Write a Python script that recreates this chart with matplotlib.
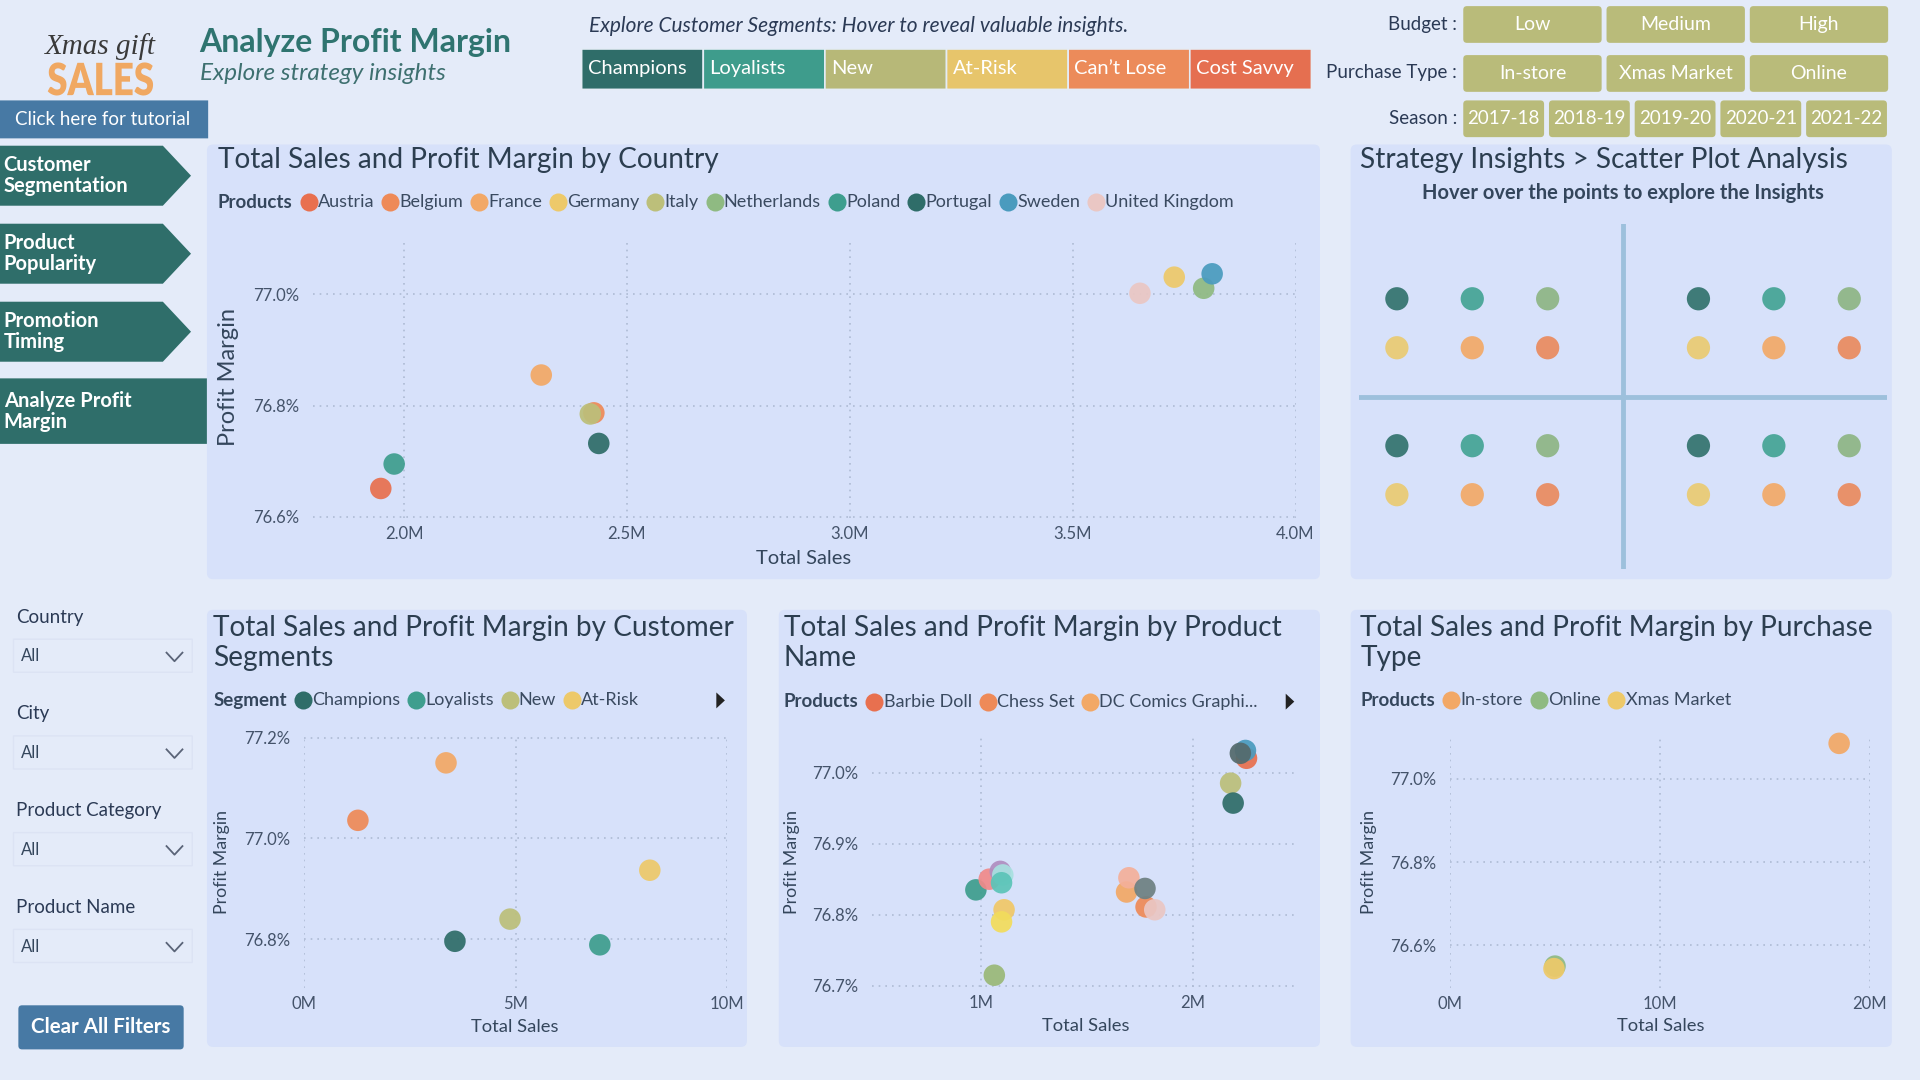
import numpy as np
import matplotlib.pyplot as plt
from matplotlib.patches import FancyBboxPatch, Polygon, PathPatch
from matplotlib.lines import Line2D
from matplotlib.transforms import Affine2D
from matplotlib.textpath import TextPath
from matplotlib.font_manager import FontProperties

plt.rcParams['font.family'] = ['Lato', 'DejaVu Sans']

# ---------------- data ----------------
countries = ['Austria', 'Belgium', 'France', 'Germany', 'Italy', 'Netherlands',
             'Poland', 'Portugal', 'Sweden', 'United Kingdom']
country_sales = [1.948, 2.426, 2.308, 3.728, 2.418, 3.794, 1.978, 2.437, 3.813, 3.651]  # M
country_margin = [76.651, 76.787, 76.855, 77.031, 76.785, 77.011, 76.695, 76.732, 77.037, 77.002]
country_colors = ['#E8704F', '#EE8A58', '#F2A866', '#EDC96A', '#BCBF7A', '#8FBA82',
                  '#3E9E8E', '#2F6D69', '#4A9BBE', '#EAC7C4']

segments = ['Champions', 'Loyalists', 'New', 'At-Risk', "Can't Lose", 'Cost Savvy']
seg_sales = [3.57, 6.99, 4.87, 8.17, 3.36, 1.28]
seg_margin = [76.796, 76.789, 76.840, 76.937, 77.150, 77.036]
seg_colors = ['#2F6D69', '#3E9E8E', '#BCBF7A', '#EDC96A', '#F2A866', '#EE8A58']

products = ['Barbie Doll', 'Chess Set', 'DC Comics Graphic Novel', 'Gingerbread House Kit',
            'Harry Potter Book Set', 'Jigsaw Puzzle', 'Lego Star Wars', 'Monopoly',
            'Nerf Blaster', 'Nintendo Switch', 'Play-Doh Set', 'Rubik\'s Cube',
            'Scrabble', 'Snow Globe', 'Teddy Bear', 'Toy Train Set', 'Uno Cards', 'Xbox Controller']
prod_sales = [2.254, 1.780, 1.688, 1.110, 2.179, 1.064, 0.977, 2.191, 2.249,
              1.821, 1.040, 1.699, 1.092, 1.104, 1.098, 1.098, 1.775, 2.225]
prod_margin = [77.020, 76.811, 76.832, 76.807, 76.985, 76.715, 76.835, 76.957, 77.031,
               76.807, 76.850, 76.852, 76.861, 76.856, 76.845, 76.790, 76.837, 77.027]
prod_colors = ['#E8704F', '#EE8A58', '#F2A866', '#F0C868', '#BCBF7A', '#9AB878',
               '#3E9E8E', '#2F6D69', '#4A9BBE', '#EAC7C4', '#F08A8A', '#F4B09A',
               '#B08EC0', '#A8E0E0', '#5CC4B8', '#F2DC5C', '#6E8082', '#546A6C']

purchase_types = ['In-store', 'Online', 'Xmas Market']
purchase_sales = [18.54, 5.01, 4.96]
purchase_margin = [77.085, 76.550, 76.544]
purchase_colors = ['#F2A866', '#8FBA82', '#EDC96A']

# strategy quadrant grid (column / row index of each insight point)
strategy_cols = [0, 1, 2, 4, 5, 6]
strategy_rows = [0, 1, 3, 4]
strategy_top_colors = ['#3F7B78', '#4FA89C', '#93B88D']
strategy_bottom_colors = ['#E8CC7C', '#F0AD72', '#E8916A']

segment_buttons = ['Champions', 'Loyalists', 'New', 'At-Risk', 'Can\u2019t Lose', 'Cost Savvy']
segment_btn_colors = ['#2F6D69', '#3E9C8C', '#B7B878', '#E7C56B', '#EC8B5A', '#E56F50']
budget_opts = ['Low', 'Medium', 'High']
purchase_opts = ['In-store', 'Xmas Market', 'Online']
season_opts = ['2017-18', '2018-19', '2019-20', '2020-21', '2021-22']
nav_items = ['Customer\nSegmentation', 'Product\nPopularity', 'Promotion\nTiming']
filters = ['Country', 'City', 'Product Category', 'Product Name']

# ---------------- figure ----------------
W, H = 1568, 882
BG = '#E4EBF9'
PANEL = '#D7E1FA'
DARK = '#2C3E50'
TICK = '#44536A'
LAB = '#34465C'

fig = plt.figure(figsize=(19.2, 10.8), dpi=100, facecolor=BG)
T = Affine2D().scale(1 / W, -1 / H).translate(0, 1) + fig.transFigure
R = fig.canvas.get_renderer()


def box(x0, y0, x1, y1, color, r=0, ec='none', lw=0, z=0):
    p = FancyBboxPatch((x0, y0), x1 - x0, y1 - y0, boxstyle=f'round,pad=0,rounding_size={r}',
                       transform=T, fc=color, ec=ec, lw=lw, zorder=z)
    fig.add_artist(p)


def txt(x, y, s, **kw):
    kw.setdefault('va', 'center')
    kw.setdefault('color', DARK)
    return fig.text(x, y, s, transform=T, **kw)


def axes_at(x0, y0, x1, y1):
    ax = fig.add_axes([x0 / W, 1 - y1 / H, (x1 - x0) / W, (y1 - y0) / H])
    ax.set_facecolor('none')
    for s in ax.spines.values():
        s.set_visible(False)
    return ax


def legend_row(x, y, title, labels, colors, size=13):
    t = txt(x, y, title, fontsize=size + 0.5, fontweight='bold', color=LAB)
    cur = t.get_window_extent(R).x1 * W / 1920
    for lab, c in zip(labels, colors):
        cx = cur + 6 + 7
        fig.add_artist(Line2D([cx], [y], marker='o', ms=13, color=c, mec='none', transform=T))
        t = txt(cx + 7.5, y, lab, fontsize=size, color='#3A4A60')
        cur = t.get_window_extent(R).x1 * W / 1920


def scatter_panel(ax, xs, ys, cols, xlim, ylim, xticks, xlab, yticks, ylab, s=240):
    ax.scatter(xs, ys, s=s, c=cols, alpha=0.93, linewidths=0, zorder=3, clip_on=False)
    ax.set_xlim(xlim)
    ax.set_ylim(ylim)
    ax.set_xticks(xticks, xlab)
    ax.set_yticks(yticks, ylab)
    ax.grid(True, color='#AEBBD4', lw=1.2, linestyle=(0, (1, 3)))
    ax.tick_params(length=0, colors=TICK, labelsize=12)
    ax.tick_params(axis='y', pad=10)
    ax.tick_params(axis='x', pad=6)


# ---------------- header ----------------
txt(82, 38, 'Xmas gift', fontsize=21, family=['Liberation Serif'], style='italic',
    color='#3A3A3A', ha='center')
# condensed "SALES" logo word, squeezed from a bold outline
tp = TextPath((0, 0), 'SALES', size=1, prop=FontProperties(family='Lato', weight='heavy'))
ext = tp.get_extents()
tr = Affine2D().translate(-ext.x0, -ext.y0).scale(86 / ext.width, -27 / ext.height).translate(39, 78)
fig.add_artist(PathPatch(tp, transform=tr + T, fc='#F0A862', ec='none'))

txt(163, 35, 'Analyze Profit Margin', fontsize=23, color='#2F7470', fontweight='bold')
txt(163, 60, 'Explore strategy insights', fontsize=17.5, style='italic', color='#3E7070')

txt(481, 21, 'Explore Customer Segments: Hover to reveal valuable insights.',
    fontsize=15, style='italic', color='#2B3A55')
bw = (1071 - 475) / len(segment_buttons)
for i, (lab, c) in enumerate(zip(segment_buttons, segment_btn_colors)):
    x0 = 475 + i * bw
    box(x0, 40, x0 + bw, 73, c, ec='#E4ECF6', lw=1.2)
    txt(x0 + 5, 56, lab, fontsize=14.5, color='white')

OLIVE = '#B9BB7A'
txt(1190, 20, 'Budget :', fontsize=13.5, ha='right', color='#2B3A55')
txt(1190, 59, 'Purchase Type :', fontsize=13.5, ha='right', color='#2B3A55')
txt(1190, 97, 'Season :', fontsize=13.5, ha='right', color='#2B3A55')
for row_y, opts in [(5, budget_opts), (45, purchase_opts)]:
    for i, lab in enumerate(opts):
        x0 = 1195 + i * 117
        box(x0, row_y, x0 + 113, row_y + 30, OLIVE, r=3)
        txt(x0 + 56.5, row_y + 15, lab, fontsize=14, color='white', ha='center')
for i, lab in enumerate(season_opts):
    x0 = 1195 + i * 70
    box(x0, 82, x0 + 66, 112, OLIVE, r=3)
    txt(x0 + 33, 97, lab, fontsize=13.5, color='white', ha='center')

# ---------------- left nav ----------------
BLUE = '#4779A4'
NAV = '#2F6E6A'
box(0, 82, 170, 113, BLUE)
txt(84, 97.5, 'Click here for tutorial', fontsize=13.5, color='white', ha='center')
for i, lab in enumerate(nav_items):
    y0 = 119 + i * 63.7
    y1 = y0 + 49
    fig.add_artist(Polygon([(0, y0), (133, y0), (156, (y0 + y1) / 2), (133, y1), (0, y1)],
                           closed=True, transform=T, fc=NAV, ec='none'))
    txt(3, (y0 + y1) / 2, lab, fontsize=14.5, fontweight='bold', color='white', linespacing=1.08)
box(0, 309, 169, 362.5, NAV)
txt(3, 336, 'Analyze Profit\nMargin', fontsize=14.5, fontweight='bold', color='white', linespacing=1.08)

for i, lab in enumerate(filters):
    yl = 504 + i * 79
    txt(13, yl, lab, fontsize=13.5, color='#2B3A55')
    box(11, yl + 18, 157, yl + 45, 'none', ec='#DCE3F4', lw=1)
    txt(17, yl + 32, 'All', fontsize=12, color=LAB)
    fig.add_artist(Line2D([136, 142.5, 149], [yl + 29, yl + 36, yl + 29], color='#5A6478',
                          lw=1.3, transform=T))
box(15, 821, 150, 857, BLUE, r=3)
txt(82.5, 839, 'Clear All Filters', fontsize=14.8, fontweight='bold', color='white', ha='center')

# ---------------- panels ----------------
for x0, y0, x1, y1 in [(169, 118, 1078, 473), (1103, 118, 1545, 473), (169, 498, 610, 855),
                       (636, 498, 1078, 855), (1103, 498, 1545, 855)]:
    box(x0, y0, x1, y1, PANEL, r=5)

TS = 20.2
# panel 1: country
txt(178, 131, 'Total Sales and Profit Margin by Country', fontsize=TS)
legend_row(178, 165, 'Products', countries, country_colors)
ax1 = axes_at(256, 195, 1058, 423)
scatter_panel(ax1, country_sales, country_margin, country_colors, (1.797, 4.0), (76.598, 77.10),
              [2.0, 2.5, 3.0, 3.5, 4.0], [f'{v:.1f}M' for v in [2.0, 2.5, 3.0, 3.5, 4.0]],
              [76.6, 76.8, 77.0], [f'{v:.1f}%' for v in [76.6, 76.8, 77.0]])
txt(656, 456, 'Total Sales', fontsize=14.5, color=LAB, ha='center')
txt(187, 308, 'Profit Margin', fontsize=17, color=LAB, ha='center', rotation=90)

# panel 2: strategy insights
txt(1111, 131, 'Strategy Insights > Scatter Plot Analysis', fontsize=TS)
txt(1325, 158, 'Hover over the points to explore the Insights', fontsize=14.5,
    fontweight='bold', ha='center', color=LAB)
ax2 = axes_at(1110, 183, 1541, 465)
ax2.set_xticks([])
ax2.set_yticks([])
ax2.set_xlim(-0.5, 6.5)
ax2.set_ylim(5.525, -1.525)
ax2.axvline(3, color='#9DC0DC', lw=3.5, zorder=1)
ax2.axhline(2, color='#9DC0DC', lw=3.5, zorder=1)
for r in strategy_rows:
    pal = strategy_top_colors if r % 3 == 0 else strategy_bottom_colors
    ax2.scatter(strategy_cols, [r] * len(strategy_cols), s=280,
                c=[pal[c % 4] for c in strategy_cols], linewidths=0, zorder=3)

# panel 3: customer segments
txt(174, 525, 'Total Sales and Profit Margin by Customer\nSegments', fontsize=TS, linespacing=1.22)
legend_row(174, 572, 'Segment', segments[:4], seg_colors[:4])
ax3 = axes_at(248, 602, 594, 807)
scatter_panel(ax3, seg_sales, seg_margin, seg_colors, (0, 10), (76.703, 77.201),
              [0, 5, 10], ['0M', '5M', '10M'],
              [76.8, 77.0, 77.2], ['76.8%', '77.0%', '77.2%'])
txt(420, 839, 'Total Sales', fontsize=13.2, color=LAB, ha='center')
txt(181, 704, 'Profit Margin', fontsize=12.8, color=LAB, ha='center', rotation=90)

# panel 4: product name
txt(640, 525, 'Total Sales and Profit Margin by Product\nName', fontsize=TS, linespacing=1.22)
legend_row(640, 573, 'Products', ['Barbie Doll', 'Chess Set', 'DC Comics Graphi...'], prod_colors[:3])
ax4 = axes_at(712, 603, 1059, 806)
scatter_panel(ax4, prod_sales, prod_margin, prod_colors, (0.486, 2.491), (76.6985, 77.048),
              [1, 2], ['1M', '2M'],
              [76.7, 76.8, 76.9, 77.0], ['76.7%', '76.8%', '76.9%', '77.0%'])
txt(887, 838, 'Total Sales', fontsize=13.2, color=LAB, ha='center')
txt(647, 704, 'Profit Margin', fontsize=12.8, color=LAB, ha='center', rotation=90)

# panel 5: purchase type
txt(1111, 525, 'Total Sales and Profit Margin by Purchase\nType', fontsize=TS, linespacing=1.22)
legend_row(1111, 572, 'Products', purchase_types, purchase_colors)
ax5 = axes_at(1184, 603, 1527, 807)
scatter_panel(ax5, purchase_sales, purchase_margin, purchase_colors, (0, 20), (76.497, 77.097),
              [0, 10, 20], ['0M', '10M', '20M'],
              [76.6, 76.8, 77.0], ['76.6%', '76.8%', '77.0%'])
txt(1356, 838, 'Total Sales', fontsize=13.2, color=LAB, ha='center')
txt(1118, 704, 'Profit Margin', fontsize=12.8, color=LAB, ha='center', rotation=90)

# legend scroll arrows
for ax_x, ay in [(585, 572), (1050, 573)]:
    fig.add_artist(Polygon([(ax_x, ay - 6.5), (ax_x + 7, ay), (ax_x, ay + 6.5)], closed=True,
                           transform=T, fc='#222222', ec='none'))

fig.savefig('out.png', dpi=100, facecolor=BG)
